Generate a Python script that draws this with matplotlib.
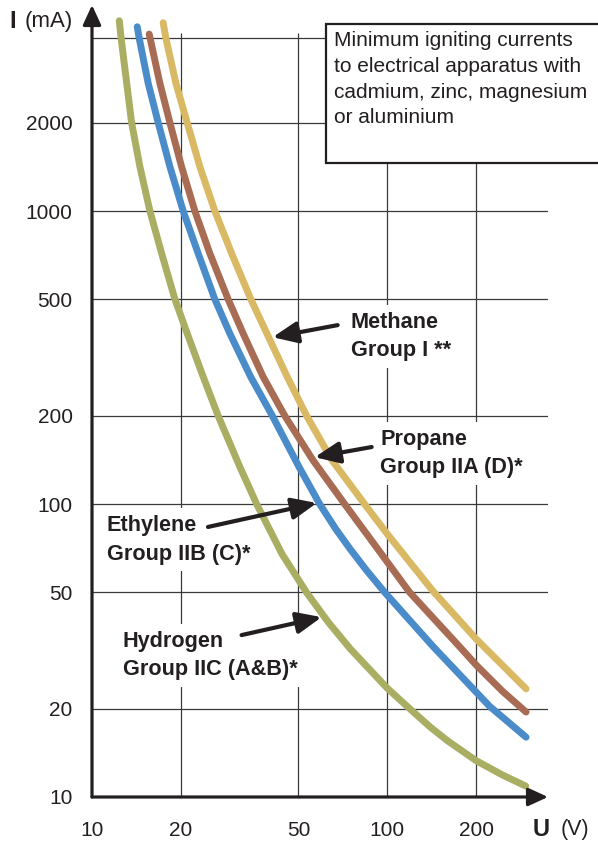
import matplotlib
matplotlib.use('Agg')
import matplotlib.pyplot as plt
from matplotlib.patches import Rectangle

plt.rcParams['font.family'] = ['Liberation Sans', 'DejaVu Sans']

# values (U in V, I in mA)
hydrogen_u = [12.37, 12.55, 13.62, 14.53, 15.71, 17.21, 19.09, 21.01, 23.79, 26.74,
              31.66, 36.1, 44, 53.2, 63, 75, 100, 120.5, 140, 160, 200, 245, 294]
hydrogen_i = [4462, 3886, 2000, 1416, 1000, 717, 500, 382, 272, 200,
              134, 100, 67.5, 50, 39.6, 32.0, 23.5, 19.8, 17.3, 15.55, 13.3, 11.9, 10.9]

ethylene_u = [14.23, 14.45, 15.50, 16.76, 18.36, 20.36, 22.88, 26.06, 29.29, 34.43,
              40.8, 50.2, 59.0, 67, 75, 85, 97.9, 143, 200, 222, 295]
ethylene_i = [4256, 3886, 2728, 2000, 1416, 1000, 717, 500, 382, 272,
              200, 134, 100, 82, 70, 59.4, 50, 32.6, 22.8, 20.4, 16.0]

propane_u = [15.62, 16.98, 18.36, 20.11, 22.30, 25.06, 28.90, 32.49, 37.95, 44.96,
             56.03, 71.7, 95, 118.9, 175.6, 200, 245, 295]
propane_i = [4018, 2728, 2000, 1416, 1000, 717, 500, 382, 272, 200,
             141, 100, 68, 50, 32.6, 28.2, 23.0, 19.5]

methane_u = [17.42, 17.79, 19.24, 21.01, 23.19, 26.06, 29.7, 34.5, 39.1, 45.8,
             53.3, 65, 85, 100, 142.6, 200, 295]
methane_i = [4392, 3886, 2728, 2000, 1416, 1000, 717, 500, 382, 272,
             200, 141, 98, 79, 50.5, 34.6, 23.4]

u_ticks = [10, 20, 50, 100, 200]
i_ticks = [10, 20, 50, 100, 200, 500, 1000, 2000]
grid_u = [20, 50, 100, 200]
grid_i = [20, 50, 100, 200, 500, 1000, 2000, 3900]

INK = '#231f20'

fig = plt.figure(figsize=(5.98, 8.43), dpi=100)
ax = fig.add_axes([92 / 598, 46 / 843, 456 / 598, 792 / 843])
ax.set_xscale('log')
ax.set_yscale('log')
ax.set_xlim(10, 350)
ax.set_ylim(10, 5050)
for s in ax.spines.values():
    s.set_visible(False)
ax.minorticks_off()
ax.set_xticks(u_ticks, [str(t) for t in u_ticks])
ax.set_yticks(i_ticks, [str(t) for t in i_ticks])
ax.tick_params(length=0, labelsize=15, colors=INK)
ax.tick_params(axis='x', pad=17)
ax.tick_params(axis='y', pad=14)

# grid
ax.vlines(grid_u, 10, 4050, colors='#3a3a3a', lw=0.9, zorder=1)
ax.hlines(grid_i, 10, 350, colors='#3a3a3a', lw=0.9, zorder=1)

# axes with arrows
axis_arrow = dict(arrowstyle='-|>,head_length=1.2,head_width=0.55', lw=2.3,
                  color=INK, shrinkA=0, shrinkB=0)
ax.annotate('', xy=(10, 5050), xytext=(10, 10), arrowprops=axis_arrow,
            annotation_clip=False, zorder=6)
ax.annotate('', xy=(350, 10), xytext=(10, 10), arrowprops=axis_arrow,
            annotation_clip=False, zorder=6)

# curves
curve_kw = dict(lw=5, solid_capstyle='round', solid_joinstyle='round', zorder=3)
ax.plot(hydrogen_u, hydrogen_i, color='#aaae62', **curve_kw)
ax.plot(ethylene_u, ethylene_i, color='#4a8cca', **curve_kw)
ax.plot(propane_u, propane_i, color='#a86c54', **curve_kw)
ax.plot(methane_u, methane_i, color='#dab964', **curve_kw)

# labels with pointer arrows
label_box = dict(boxstyle='square,pad=0.32', fc='white', ec='none')
pointer = dict(arrowstyle='-|>,head_length=1.5,head_width=0.65', lw=3,
               color=INK, shrinkA=0, shrinkB=0)

labels = [
    ('Methane\nGroup I **', (75.2, 452), (67.9, 408), (40.9, 371)),
    ('Propane\nGroup IIA (D)*', (94.8, 181), (88.5, 156.5), (56.8, 144.5)),
    ('Ethylene\nGroup IIB (C)*', (11.24, 91.5), (24.7, 83.5), (57.7, 100.8)),
    ('Hydrogen\nGroup IIC (A&B)*', (12.7, 37.0), (32.1, 35.7), (59.9, 41.1)),
]
for txt, pos, tail, tip in labels:
    ax.text(pos[0], pos[1], txt, fontsize=15.6, fontweight='bold', color=INK,
            ha='left', va='top', linespacing=1.45, bbox=label_box, zorder=2)
    ax.annotate('', xy=tip, xytext=tail, arrowprops=pointer, zorder=5)

# axis titles
fig.text(9 / 598, 1 - 21 / 843, 'I', fontsize=17, fontweight='bold', color=INK, va='center')
fig.text(25 / 598, 1 - 21 / 843, '(mA)', fontsize=16, color=INK, va='center')
fig.text(533 / 598, 1 - 829 / 843, 'U', fontsize=17, fontweight='bold', color=INK, va='center')
fig.text(561 / 598, 1 - 830 / 843, '(V)', fontsize=15.5, color=INK, va='center')

# info box
box = Rectangle((326 / 598, 1 - 163 / 843), 0.6, 139 / 843, transform=fig.transFigure,
                fc='white', ec=INK, lw=1.6, zorder=5)
fig.add_artist(box)
fig.text(334 / 598, 1 - 31 / 843,
         'Minimum igniting currents\nto electrical apparatus with\ncadmium, zinc, magnesium\nor aluminium',
         fontsize=15, color=INK, va='top', ha='left', linespacing=1.45, zorder=6)

fig.savefig('out.png', dpi=100)
